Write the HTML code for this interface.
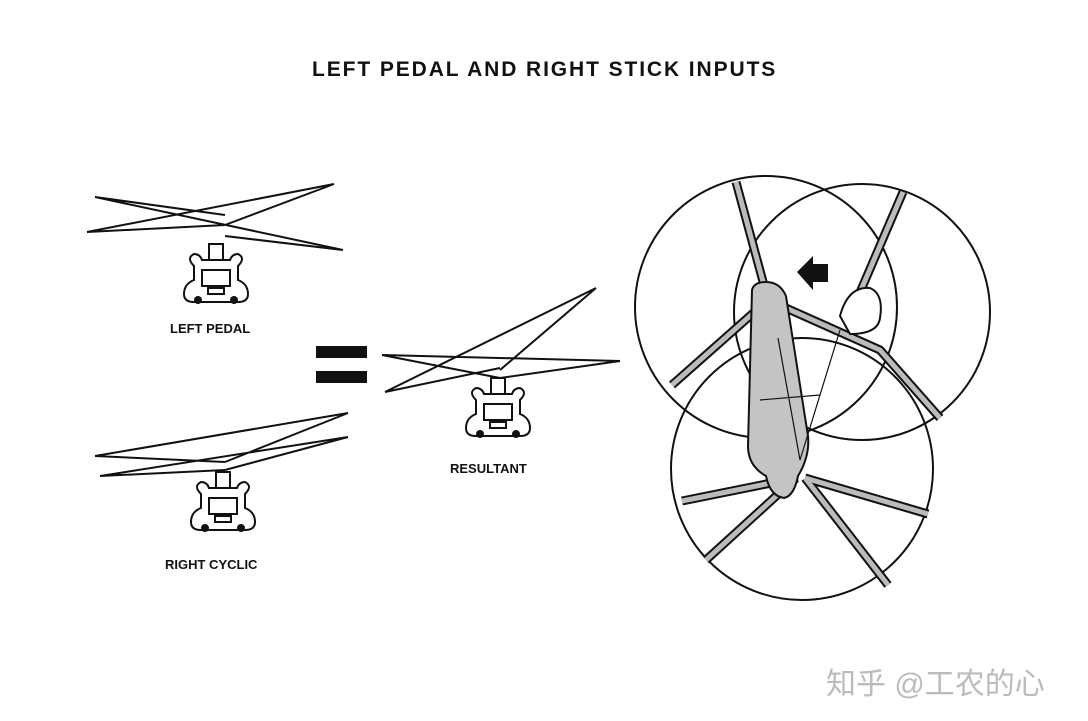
<!DOCTYPE html>
<html><head><meta charset="utf-8"><style>
html,body{margin:0;padding:0;background:#fff;}
body{width:1088px;height:721px;overflow:hidden;position:relative;font-family:"Liberation Sans",Arial,sans-serif;}
.t{position:absolute;font-weight:bold;color:#111;white-space:nowrap;}
</style></head><body>
<div class="t" style="left:312px;top:58px;font-size:21px;letter-spacing:1.9px;">LEFT PEDAL AND RIGHT STICK INPUTS</div>
<div class="t" style="left:170px;top:321px;font-size:13px;">LEFT PEDAL</div>
<div class="t" style="left:165px;top:557px;font-size:13px;">RIGHT CYCLIC</div>
<div class="t" style="left:450px;top:461px;font-size:13px;">RESULTANT</div>
<div style="position:absolute;left:826px;top:659px;font-size:30px;color:#bbb;font-family:'Liberation Sans','Noto Sans CJK SC',sans-serif;">知乎 @工农的心</div>
<svg width="1088" height="721" style="position:absolute;left:0;top:0" fill="none" stroke="#111" stroke-width="2">
<defs>
<g id="body">
<rect x="-7" y="-22" width="14" height="22" fill="#fff"/>
<path d="M-22,0 q-8,-8 0,-12 q6,0 8,6 h28 q2,-6 8,-6 q8,4 0,12 v14 q10,4 10,14 q0,8 -10,8 h-44 q-10,0 -10,-8 q0,-10 10,-14z" fill="#fff"/>
<rect x="-14" y="4" width="28" height="16"/>
<rect x="-8" y="22" width="16" height="6"/>
<circle cx="-18" cy="34" r="3" fill="#111"/><circle cx="18" cy="34" r="3" fill="#111"/>
</g>
</defs>
<path d="M95,197 L343,250 M87,232 L334,184 M95,197 L225,215 M87,232 L225,225 M334,184 L225,225 M343,250 L225,236"/>
<use href="#body" x="216" y="266"/>
<path d="M95,456 L348,413 M100,476 L348,437 M95,456 L225,462 M100,476 L225,470 M348,413 L225,462 M348,437 L225,470"/>
<use href="#body" x="223" y="494"/>
<path d="M382,355 L620,361 M385,392 L596,288 M382,355 L500,378 M385,392 L500,368 M620,361 L500,378 M596,288 L500,370"/>
<use href="#body" x="498" y="400"/>
<rect x="316" y="346" width="51" height="12" fill="#111" stroke="none"/>
<rect x="316" y="371" width="51" height="12" fill="#111" stroke="none"/>
<g stroke-width="2">
<circle cx="766" cy="307" r="131"/>
<circle cx="862" cy="312" r="128"/>
<circle cx="802" cy="469" r="131"/>
</g>
<g stroke="#111" stroke-width="9">
<path d="M736,182 L768,300 M768,300 L672,385 M768,300 L880,350 L940,418 M903,192 L858,297 M796,478 L706,560 M796,478 L682,501 M805,478 L928,514 M805,478 L888,585"/>
</g>
<g stroke="#bbb" stroke-width="5">
<path d="M736,182 L768,300 M768,300 L672,385 M768,300 L880,350 L940,418 M903,192 L858,297 M796,478 L706,560 M796,478 L682,501 M805,478 L928,514 M805,478 L888,585"/>
</g>
<path d="M752,290 q2,-8 14,-8 q14,0 20,14 l22,140 q2,20 -10,40 q-4,20 -14,22 q-14,-2 -18,-22 q-18,-10 -18,-30z" fill="#c4c4c4" stroke="#111" stroke-width="2"/>
<path d="M840,316 q8,-30 30,-28 q14,6 10,30 q-2,16 -30,16z" fill="#fff"/>
<path d="M778,338 L800,460 M800,460 L840,330 M760,400 L820,395" stroke-width="1.2"/>
<path d="M797,272 L813,256 L813,264 L828,264 L828,282 L813,282 L813,290z" fill="#111" stroke="none"/>
</svg>
</body></html>
